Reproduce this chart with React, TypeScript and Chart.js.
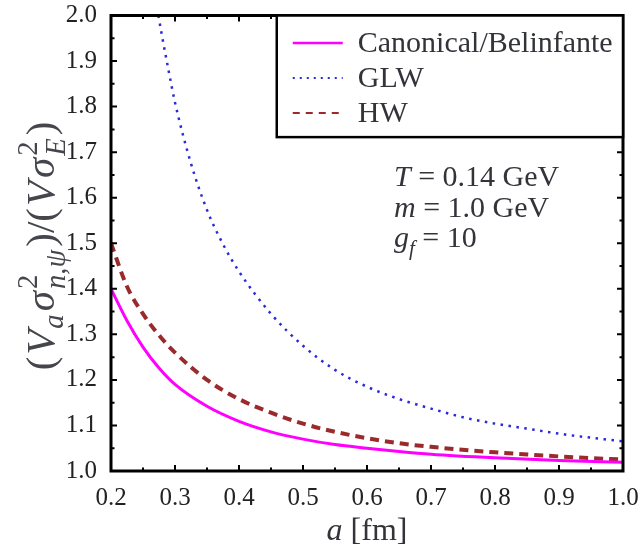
import React, { useEffect, useRef } from "react";
import { Chart, registerables } from "chart.js";
Chart.register(...registerables);

// ---- data ----
const aGrid = [0.2, 0.225, 0.25, 0.275, 0.3, 0.35, 0.4, 0.45, 0.5, 0.55, 0.6, 0.65, 0.7, 0.8, 0.9, 1.0];
const canonicalVals = [1.4, 1.33, 1.272, 1.226, 1.19, 1.142, 1.109, 1.086, 1.07, 1.058, 1.05, 1.043, 1.037, 1.029, 1.023, 1.019];
const hwVals = [1.5, 1.405, 1.345, 1.298, 1.26, 1.2, 1.158, 1.128, 1.104, 1.086, 1.072, 1.061, 1.053, 1.041, 1.032, 1.025];
const aGlw = [0.274, 0.28, 0.29, 0.3, 0.325, 0.35, 0.375, 0.4, 0.45, 0.5, 0.55, 0.6, 0.65, 0.7, 0.75, 0.8, 0.85, 0.9, 0.95, 1.0];
const glwVals = [2.0, 1.953, 1.879, 1.809, 1.675, 1.573, 1.498, 1.438, 1.345, 1.275, 1.222, 1.185, 1.158, 1.137, 1.118, 1.104, 1.093, 1.082, 1.073, 1.065];

const seriesLabels = ["Canonical/Belinfante", "GLW", "HW"];
const xTickLabels = ["0.2", "0.3", "0.4", "0.5", "0.6", "0.7", "0.8", "0.9", "1.0"];
const yTickLabels = ["1.0", "1.1", "1.2", "1.3", "1.4", "1.5", "1.6", "1.7", "1.8", "1.9", "2.0"];
const paramLines = [
  [{ t: "T", it: true }, { t: " = 0.14 GeV" }],
  [{ t: "m", it: true }, { t: " = 1.0 GeV" }],
  [{ t: "g", it: true }, { t: "f", it: true, sz: 0.7, dy: 0.25 }, { t: " = 10" }],
];

const FAMILY = '"Liberation Serif", "DejaVu Serif", serif';
const TEXT = "#33343a";

type Seg = { t?: string; it?: boolean; sz?: number; dy?: number; gap?: number; stack?: Seg[] };

function fontOf(s: Seg, base: number) {
  const size = base * (s.sz ?? 1);
  return `${s.it ? "italic " : ""}${size}px ${FAMILY}`;
}
function segWidth(ctx: CanvasRenderingContext2D, s: Seg, base: number): number {
  if (s.stack) return Math.max(...s.stack.map((x) => segWidth(ctx, x, base))) + (s.gap ?? 0);
  ctx.font = fontOf(s, base);
  return ctx.measureText(s.t || "").width + (s.gap ?? 0);
}
function drawRich(ctx: CanvasRenderingContext2D, segs: Seg[], x: number, y: number, base: number, align: "left" | "center", color = TEXT) {
  const total = segs.reduce((w, s) => w + segWidth(ctx, s, base), 0);
  let cx = align === "center" ? x - total / 2 : x;
  ctx.textAlign = "left";
  ctx.textBaseline = "alphabetic";
  ctx.fillStyle = color;
  for (const s of segs) {
    const w = segWidth(ctx, s, base);
    const parts = s.stack ? s.stack : [s];
    for (const p of parts) {
      ctx.font = fontOf(p, base);
      ctx.fillText(p.t || "", cx, y + (p.dy ?? 0) * base);
    }
    cx += w;
  }
}

const yTitle: Seg[] = [
  { t: "(", gap: 2 },
  { t: "V", it: true, gap: 1 },
  { t: "a", it: true, sz: 0.7, dy: 0.22, gap: 3 },
  { t: "σ", it: true, gap: 2 },
  { stack: [{ t: "2", sz: 0.7, dy: -0.42 }, { t: "n,ψ", it: true, sz: 0.7, dy: 0.28 }], gap: 3 },
  { t: ")/(", gap: 2 },
  { t: "V", it: true, gap: 3 },
  { t: "σ", it: true, gap: 2 },
  { stack: [{ t: "2", sz: 0.7, dy: -0.42 }, { t: "E", it: true, sz: 0.7, dy: 0.28 }], gap: 3 },
  { t: ")" },
];
const xTitle: Seg[] = [{ t: "a", it: true }, { t: " [fm]" }];

const decorPlugin = {
  id: "decor",
  afterDatasetsDraw(chart: any) {
    const ctx: CanvasRenderingContext2D = chart.ctx;
    const { left, right, top, bottom } = chart.chartArea;
    const xs = chart.scales.x;
    const ys = chart.scales.y;
    ctx.save();
    // inward ticks on all four sides
    ctx.strokeStyle = "#000";
    ctx.lineWidth = 2;
    for (let i = 0; i <= 16; i++) {
      const v = 0.2 + i * 0.05;
      const px = xs.getPixelForValue(v);
      const len = i % 2 === 0 ? 6 : 3.5;
      ctx.beginPath();
      ctx.moveTo(px, bottom);
      ctx.lineTo(px, bottom - len);
      ctx.moveTo(px, top);
      ctx.lineTo(px, top + len);
      ctx.stroke();
    }
    for (let i = 0; i <= 20; i++) {
      const v = 1.0 + i * 0.05;
      const py = ys.getPixelForValue(v);
      const len = i % 2 === 0 ? 6 : 3.5;
      ctx.beginPath();
      ctx.moveTo(left, py);
      ctx.lineTo(left + len, py);
      ctx.moveTo(right, py);
      ctx.lineTo(right - len, py);
      ctx.stroke();
    }
    // frame
    ctx.lineWidth = 3;
    ctx.strokeRect(left, top, right - left, bottom - top);

    // legend box
    const lx0 = xs.getPixelForValue(0.459);
    const lx1 = right;
    const ly0 = top;
    const ly1 = ys.getPixelForValue(1.733);
    ctx.fillStyle = "#fff";
    ctx.fillRect(lx0, ly0, lx1 - lx0, ly1 - ly0);
    ctx.lineWidth = 2.5;
    ctx.strokeRect(lx0, ly0, lx1 - lx0, ly1 - ly0);
    const rowY = [43, 78, 113];
    chart.data.datasets.forEach((ds: any, i: number) => {
      const y = rowY[i];
      ctx.save();
      ctx.strokeStyle = ds.borderColor;
      ctx.lineWidth = ds.legendWidth;
      ctx.setLineDash(ds.legendDash);
      ctx.beginPath();
      ctx.moveTo(lx0 + 16, y);
      ctx.lineTo(lx0 + 66, y);
      ctx.stroke();
      ctx.restore();
      ctx.font = `30px ${FAMILY}`;
      ctx.fillStyle = TEXT;
      ctx.textAlign = "left";
      ctx.textBaseline = "middle";
      ctx.fillText(ds.label, lx0 + 81, y + 1);
    });

    // parameter annotation
    const pBase = [186, 217, 247];
    paramLines.forEach((segs, i) => drawRich(ctx, segs as Seg[], 394, pBase[i], 30, "left"));

    // axis titles
    drawRich(ctx, xTitle, (left + right) / 2, 540, 32, "center");
    ctx.save();
    ctx.translate(54, 246);
    ctx.rotate(-Math.PI / 2);
    drawRich(ctx, yTitle, 0, 0, 41, "center", "#45464c");
    ctx.restore();
    ctx.restore();
  },
};

export default function App() {
  const ref = useRef<HTMLCanvasElement | null>(null);
  useEffect(() => {
    if (!ref.current) return;
    const chart = new Chart(ref.current, {
      type: "line",
      data: {
        datasets: [
          {
            label: seriesLabels[0],
            data: aGrid.map((a, i) => ({ x: a, y: canonicalVals[i] })),
            borderColor: "#ff00ff",
            borderWidth: 3,
            pointRadius: 0,
            cubicInterpolationMode: "monotone",
            legendWidth: 2.5,
            legendDash: [],
          } as any,
          {
            label: seriesLabels[1],
            data: aGlw.map((a, i) => ({ x: a, y: glwVals[i] })),
            borderColor: "#2a2ad6",
            borderWidth: 2.5,
            borderDash: [2.5, 5.5],
            pointRadius: 0,
            cubicInterpolationMode: "monotone",
            legendWidth: 2,
            legendDash: [2, 5],
          } as any,
          {
            label: seriesLabels[2],
            data: aGrid.map((a, i) => ({ x: a, y: hwVals[i] })),
            borderColor: "#9b2a2d",
            borderWidth: 4,
            borderDash: [9, 6],
            pointRadius: 0,
            cubicInterpolationMode: "monotone",
            legendWidth: 2,
            legendDash: [7, 6],
          } as any,
        ],
      },
      options: {
        animation: false,
        responsive: true,
        maintainAspectRatio: false,
        layout: { padding: { left: 0, top: 15.5, right: 21, bottom: 0 } },
        plugins: { legend: { display: false }, tooltip: { enabled: false } },
        scales: {
          x: {
            type: "linear",
            min: 0.2,
            max: 1.0,
            grid: { display: false, drawTicks: false },
            border: { display: false },
            ticks: {
              stepSize: 0.1,
              padding: 12,
              color: "#222",
              font: { family: FAMILY, size: 25 },
              callback: (_v: any, i: number) => xTickLabels[i],
            },
            afterFit: (s: any) => {
              s.height = 84;
              s.paddingLeft = 0;
              s.paddingRight = 0;
            },
          },
          y: {
            type: "linear",
            min: 1.0,
            max: 2.0,
            grid: { display: false, drawTicks: false },
            border: { display: false },
            ticks: {
              stepSize: 0.1,
              padding: 14,
              color: "#222",
              font: { family: FAMILY, size: 25 },
              callback: (_v: any, i: number) => yTickLabels[i],
            },
            afterFit: (s: any) => {
              s.width = 111;
              s.paddingTop = 0;
              s.paddingBottom = 0;
            },
          },
        },
      },
      plugins: [decorPlugin],
    });
    return () => chart.destroy();
  }, []);
  return (
    <div style={{ position: "fixed", left: 0, top: 0, width: 644, height: 555, background: "#fff" }}>
      <canvas ref={ref} />
    </div>
  );
}
